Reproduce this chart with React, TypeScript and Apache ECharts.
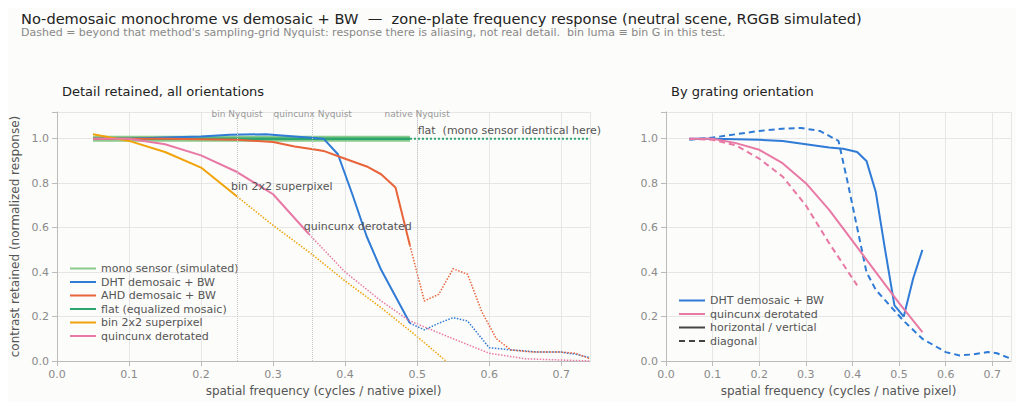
import { useEffect, useRef } from "react";
import * as echarts from "echarts";

const FONT = "DejaVu Sans";
const TICK = "#8a8a8a";
const GRIDC = "#e6e6e6";

// left panel: [freq, response]
const monoSolid = [[0.05, 1.0], [0.49, 1.0]];
const flatSolid = [[0.05, 1.0], [0.49, 1.0]];
const flatBeyond = [[0.49, 1.0], [0.74, 1.0]];
const dhtSolid = [[0.05, 1.0], [0.1, 1.0], [0.15, 1.005], [0.2, 1.01], [0.24, 1.018], [0.29, 1.02], [0.33, 1.01], [0.37, 1.0], [0.39, 0.93], [0.41, 0.75], [0.43, 0.56], [0.45, 0.41], [0.47, 0.29], [0.49, 0.17]];
const dhtBeyond = [[0.49, 0.17], [0.51, 0.14], [0.53, 0.17], [0.55, 0.195], [0.57, 0.18], [0.59, 0.1], [0.6, 0.06], [0.63, 0.05], [0.67, 0.04], [0.7, 0.04], [0.72, 0.03], [0.74, 0.015]];
const ahdSolid = [[0.05, 1.0], [0.15, 1.0], [0.25, 0.995], [0.3, 0.985], [0.33, 0.965], [0.36, 0.95], [0.37, 0.945], [0.4, 0.91], [0.43, 0.875], [0.45, 0.84], [0.47, 0.78], [0.49, 0.52]];
const ahdBeyond = [[0.49, 0.52], [0.51, 0.27], [0.53, 0.3], [0.55, 0.415], [0.57, 0.39], [0.59, 0.22], [0.61, 0.1], [0.63, 0.05], [0.66, 0.04], [0.7, 0.04], [0.72, 0.035], [0.74, 0.01]];
const binSolid = [[0.05, 1.02], [0.1, 0.99], [0.15, 0.94], [0.2, 0.87], [0.25, 0.74]];
const binBeyond = [[0.25, 0.74], [0.3, 0.61], [0.35, 0.49], [0.4, 0.36], [0.45, 0.24], [0.5, 0.11], [0.54, 0.0]];
const qxSolid = [[0.05, 1.0], [0.1, 1.0], [0.15, 0.975], [0.2, 0.925], [0.25, 0.85], [0.3, 0.75], [0.35, 0.57]];
const qxBeyond = [[0.35, 0.57], [0.4, 0.4], [0.45, 0.27], [0.49, 0.18], [0.55, 0.1], [0.6, 0.035], [0.65, 0.01], [0.74, 0.0]];
const nyquist = [
  { x: 0.25, label: "bin Nyquist" },
  { x: 0.355, label: "quincunx Nyquist" },
  { x: 0.5, label: "native Nyquist" },
];

// right panel
const dhtHV = [[0.05, 1.0], [0.1, 1.0], [0.2, 0.995], [0.25, 0.99], [0.3, 0.975], [0.35, 0.96], [0.38, 0.955], [0.41, 0.94], [0.43, 0.9], [0.45, 0.76], [0.47, 0.5], [0.49, 0.25], [0.51, 0.2], [0.53, 0.37], [0.55, 0.5]];
const dhtDiag = [[0.05, 0.995], [0.1, 1.005], [0.15, 1.02], [0.2, 1.035], [0.25, 1.045], [0.29, 1.048], [0.33, 1.035], [0.37, 0.99], [0.39, 0.8], [0.41, 0.6], [0.43, 0.4], [0.45, 0.32], [0.48, 0.25], [0.51, 0.18], [0.55, 0.1], [0.6, 0.04], [0.63, 0.025], [0.66, 0.03], [0.69, 0.04], [0.71, 0.035], [0.74, 0.01]];
const qxHV = [[0.05, 1.0], [0.1, 1.0], [0.15, 0.98], [0.2, 0.95], [0.25, 0.89], [0.3, 0.8], [0.35, 0.68], [0.4, 0.54], [0.45, 0.4], [0.5, 0.26], [0.55, 0.13]];
const qxDiag = [[0.05, 1.0], [0.1, 0.995], [0.15, 0.97], [0.2, 0.91], [0.25, 0.83], [0.3, 0.7], [0.35, 0.53], [0.41, 0.34]];

const C = { mono: "#8cca8c", dht: "#2f7bd6", ahd: "#e8643a", flat: "#2aa66e", bin: "#f0a30a", qx: "#e879a5", dark: "#444" };

function line(name: string, data: number[][], color: string, idx: number, type: any = "solid", width = 2, extra: any = {}) {
  return {
    name, type: "line", data, xAxisIndex: idx, yAxisIndex: idx, symbol: "none",
    lineStyle: { color, width, type }, itemStyle: { color }, z: 3, ...extra,
  };
}

function label(text: string, coord: number[], fontSize = 11) {
  return {
    coord, symbol: "circle", symbolSize: 1,
    itemStyle: { color: "rgba(0,0,0,0)" },
    label: { show: true, formatter: text, position: "right", distance: 0, color: "#555", fontSize, fontFamily: FONT },
  };
}

export default function App() {
  const ref = useRef<HTMLDivElement>(null);
  useEffect(() => {
    const chart = echarts.init(ref.current!, null, { renderer: "svg" });
    const xAxis = (gi: number) => ({
      type: "value", gridIndex: gi, min: 0, max: 0.74, interval: 0.1,
      name: "spatial frequency (cycles / native pixel)", nameLocation: "middle", nameGap: 22,
      nameTextStyle: { color: "#555", fontSize: 12, fontFamily: FONT },
      axisLine: { lineStyle: { color: "#bbb" } }, axisTick: { show: true, lineStyle: { color: "#bbb" } },
      axisLabel: { color: TICK, fontSize: 11, fontFamily: FONT, showMaxLabel: false, formatter: (v: number) => v.toFixed(1) },
      splitLine: { lineStyle: { color: GRIDC } },
    });
    const yAxis = (gi: number, name: string) => ({
      type: "value", gridIndex: gi, min: 0, max: 1.12, interval: 0.2,
      name, nameLocation: "middle", nameGap: 30,
      nameTextStyle: { color: "#555", fontSize: 12, fontFamily: FONT },
      axisLine: { show: true, lineStyle: { color: "#bbb" } }, axisTick: { show: true, lineStyle: { color: "#bbb" } },
      axisLabel: { color: TICK, fontSize: 11, fontFamily: FONT, formatter: (v: number) => (v > 1.05 ? "" : v.toFixed(1)) },
      splitLine: { lineStyle: { color: GRIDC } },
    });
    const legendBase = {
      orient: "vertical", itemWidth: 26, itemHeight: 10, itemGap: 2.5,
      itemStyle: { opacity: 0 },
      textStyle: { color: "#555", fontSize: 11, fontFamily: FONT },
    };
    chart.setOption({
      animation: false,
      backgroundColor: "#fcfcfa",
      textStyle: { fontFamily: FONT },
      title: [
        { text: "No-demosaic monochrome vs demosaic + BW  —  zone-plate frequency response (neutral scene, RGGB simulated)", left: 16, top: 6, textStyle: { fontSize: 14.6, fontWeight: "normal", color: "#222", fontFamily: FONT } },
        { text: "Dashed = beyond that method's sampling-grid Nyquist: response there is aliasing, not real detail.  bin luma ≡ bin G in this test.", left: 16, top: 22, textStyle: { fontSize: 11, fontWeight: "normal", color: "#888", fontFamily: FONT } },
        { text: "Detail retained, all orientations", left: 57, top: 80, textStyle: { fontSize: 13, fontWeight: "normal", color: "#222", fontFamily: FONT } },
        { text: "By grating orientation", left: 666, top: 80, textStyle: { fontSize: 13, fontWeight: "normal", color: "#222", fontFamily: FONT } },
      ],
      grid: [
        { left: 57, right: 434, top: 112, bottom: 49 },
        { left: 666, right: 13, top: 112, bottom: 49 },
      ],
      xAxis: [xAxis(0), xAxis(1)],
      yAxis: [yAxis(0, "contrast retained (normalized response)"), yAxis(1, "")],
      legend: [
        { ...legendBase, left: 64, top: 258, data: ["mono sensor (simulated)", "DHT demosaic + BW", "AHD demosaic + BW", "flat (equalized mosaic)", "bin 2x2 superpixel", "quincunx derotated"] },
        { ...legendBase, left: 673, top: 290, data: ["DHT demosaic + BW ", "quincunx derotated ", "horizontal / vertical", "diagonal"] },
      ],
      series: [
        line("mono sensor (simulated)", monoSolid, C.mono, 0, "solid", 6, { z: 2 }),
        line("flat (equalized mosaic)", flatSolid, C.flat, 0, "solid", 2.5, {
          markLine: {
            silent: true, symbol: "none",
            lineStyle: { color: "#c8c8c8", type: "dotted", width: 1 },
            label: { show: true, position: "end", distance: -6, color: "#999", fontSize: 9, fontFamily: FONT, formatter: (p: any) => p.name },
            data: nyquist.map((n) => [{ coord: [n.x, 0], name: n.label }, { coord: [n.x, 1.12], name: n.label }]),
          },
        }),
        line("flat (equalized mosaic)", flatBeyond, C.flat, 0, "dotted", 2, {
          markPoint: { data: [label("flat  (mono sensor identical here)", [0.5, 1.035])] },
        }),
        line("DHT demosaic + BW", dhtSolid, C.dht, 0),
        line("DHT demosaic + BW", dhtBeyond, C.dht, 0, "dotted", 1.5),
        line("AHD demosaic + BW", ahdSolid, C.ahd, 0),
        line("AHD demosaic + BW", ahdBeyond, C.ahd, 0, "dotted", 1.5),
        line("bin 2x2 superpixel", binSolid, C.bin, 0, "solid", 2, {
          markPoint: { data: [label("bin 2x2 superpixel", [0.241, 0.785])] },
        }),
        line("bin 2x2 superpixel", binBeyond, C.bin, 0, "dotted", 1.5),
        line("quincunx derotated", qxSolid, C.qx, 0, "solid", 2, {
          markPoint: { data: [label("quincunx derotated", [0.342, 0.605])] },
        }),
        line("quincunx derotated", qxBeyond, C.qx, 0, "dotted", 1.5),
        line("DHT demosaic + BW ", dhtHV, C.dht, 1),
        line("DHT demosaic + BW ", dhtDiag, C.dht, 1, [6, 4], 2),
        line("quincunx derotated ", qxHV, C.qx, 1),
        line("quincunx derotated ", qxDiag, C.qx, 1, [6, 4], 2),
        line("horizontal / vertical", [], C.dark, 1),
        line("diagonal", [], C.dark, 1, [6, 4], 2),
      ],
    });
    return () => chart.dispose();
  }, []);
  return <div ref={ref} style={{ width: 1024, height: 410, margin: -8 }} />;
}
